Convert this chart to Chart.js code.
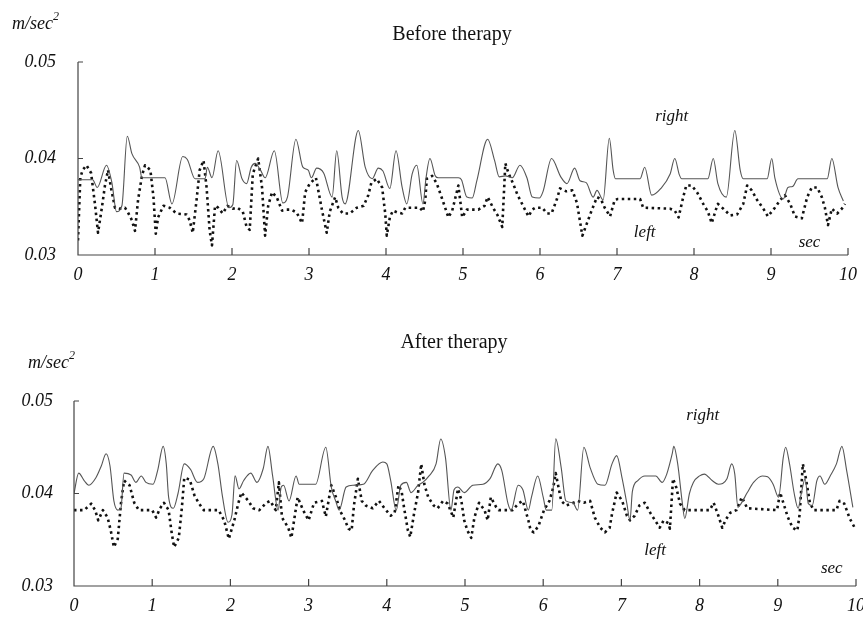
<!DOCTYPE html>
<html>
<head>
<meta charset="utf-8">
<script src="https://cdn.jsdelivr.net/npm/chart.js@4.4.1/dist/chart.umd.min.js"></script>
<style>
  body { margin: 0; background: #fff; }
  #wrap1 { position: absolute; left: 0; top: 0; width: 863px; height: 300px; }
  #wrap2 { position: absolute; left: 0; top: 310px; width: 863px; height: 310px; }
</style>
</head>
<body>
<div id="wrap1"><canvas id="chartBefore" width="863" height="300"></canvas></div>
<div id="wrap2"><canvas id="chartAfter" width="863" height="310"></canvas></div>
<script>
// time axis ticks (sec) and acceleration ticks (m/sec^2)
const xTicks = [0, 1, 2, 3, 4, 5, 6, 7, 8, 9, 10];
const yTicks = [0.03, 0.04, 0.05];

// Before therapy - right side (solid)
const beforeRightT = [0, 0.19, 0.25, 0.37, 0.44, 0.50, 0.57, 0.64, 0.70, 0.80, 0.83, 1.13, 1.22, 1.36, 1.42, 1.52, 1.65, 1.68, 1.74, 1.82, 1.96, 2.01, 2.06, 2.13, 2.19, 2.25, 2.30, 2.37, 2.43, 2.55, 2.66, 2.72, 2.83, 2.92, 2.99, 3.03, 3.10, 3.19, 3.30, 3.36, 3.43, 3.47, 3.64, 3.73, 3.82, 3.90, 3.96, 4.05, 4.13, 4.21, 4.27, 4.34, 4.40, 4.48, 4.52, 4.57, 4.64, 4.68, 4.94, 4.98, 5.05, 5.12, 5.18, 5.32, 5.41, 5.47, 5.55, 5.64, 5.74, 5.83, 5.90, 5.99, 6.04, 6.15, 6.27, 6.35, 6.45, 6.52, 6.60, 6.69, 6.74, 6.82, 6.90, 6.95, 6.98, 7.30, 7.36, 7.45, 7.57, 7.69, 7.75, 7.81, 7.84, 8.18, 8.25, 8.31, 8.42, 8.53, 8.60, 8.64, 8.95, 9.01, 9.05, 9.16, 9.22, 9.28, 9.35, 9.73, 9.79, 9.87, 9.94];
const beforeRightV = [0.0378, 0.0378, 0.0370, 0.0393, 0.0375, 0.0345, 0.0351, 0.0423, 0.0405, 0.0391, 0.0380, 0.0380, 0.0353, 0.0402, 0.0399, 0.0379, 0.0379, 0.0391, 0.0380, 0.0408, 0.0349, 0.0352, 0.0398, 0.0379, 0.0374, 0.0391, 0.0395, 0.0388, 0.0380, 0.0408, 0.0354, 0.0360, 0.0420, 0.0391, 0.0388, 0.0380, 0.0390, 0.0385, 0.0360, 0.0408, 0.0360, 0.0353, 0.0429, 0.0391, 0.0379, 0.0390, 0.0387, 0.0369, 0.0408, 0.0370, 0.0353, 0.0384, 0.0393, 0.0353, 0.0380, 0.0400, 0.0382, 0.0380, 0.0380, 0.0378, 0.0360, 0.0359, 0.0377, 0.0420, 0.0398, 0.0381, 0.0382, 0.0380, 0.0393, 0.0380, 0.0360, 0.0359, 0.0366, 0.0400, 0.0381, 0.0374, 0.0390, 0.0377, 0.0375, 0.0360, 0.0367, 0.0357, 0.0421, 0.0388, 0.0379, 0.0379, 0.0391, 0.0362, 0.0369, 0.0384, 0.0400, 0.0383, 0.0379, 0.0379, 0.0400, 0.0374, 0.0360, 0.0429, 0.0388, 0.0379, 0.0379, 0.0400, 0.0380, 0.0358, 0.0370, 0.0371, 0.0379, 0.0379, 0.0400, 0.0370, 0.0356];

// Before therapy - left side (dotted)
const beforeLeftT = [0, 0.03, 0.06, 0.11, 0.17, 0.22, 0.26, 0.31, 0.35, 0.39, 0.43, 0.48, 0.54, 0.61, 0.65, 0.70, 0.74, 0.78, 0.83, 0.87, 0.94, 0.98, 1.01, 1.04, 1.11, 1.19, 1.28, 1.41, 1.45, 1.49, 1.54, 1.58, 1.63, 1.67, 1.71, 1.74, 1.78, 1.82, 1.88, 1.94, 2.01, 2.07, 2.14, 2.19, 2.23, 2.27, 2.34, 2.39, 2.43, 2.47, 2.52, 2.58, 2.65, 2.71, 2.77, 2.84, 2.91, 2.95, 3.01, 3.09, 3.17, 3.23, 3.27, 3.34, 3.38, 3.44, 3.53, 3.62, 3.71, 3.77, 3.81, 3.88, 3.95, 3.99, 4.01, 4.05, 4.09, 4.15, 4.21, 4.25, 4.44, 4.48, 4.51, 4.53, 4.60, 4.66, 4.73, 4.81, 4.86, 4.94, 4.99, 5.05, 5.12, 5.20, 5.28, 5.32, 5.39, 5.45, 5.51, 5.55, 5.59, 5.65, 5.71, 5.78, 5.85, 5.90, 5.94, 6.03, 6.09, 6.15, 6.22, 6.26, 6.34, 6.42, 6.48, 6.55, 6.61, 6.67, 6.74, 6.79, 6.84, 6.91, 6.97, 7.01, 7.30, 7.34, 7.69, 7.75, 7.80, 7.86, 7.90, 7.97, 8.04, 8.12, 8.18, 8.23, 8.28, 8.31, 8.38, 8.47, 8.56, 8.64, 8.69, 8.75, 8.82, 8.90, 8.96, 9.05, 9.12, 9.18, 9.25, 9.31, 9.40, 9.47, 9.53, 9.60, 9.66, 9.70, 9.74, 9.79, 9.86, 9.92, 9.96];
const beforeLeftV = [0.0315, 0.0380, 0.0388, 0.0393, 0.0385, 0.0353, 0.0323, 0.0349, 0.0372, 0.0388, 0.0369, 0.0349, 0.0348, 0.0349, 0.0344, 0.0336, 0.0325, 0.0357, 0.0382, 0.0393, 0.0388, 0.0360, 0.0322, 0.0339, 0.0351, 0.0349, 0.0343, 0.0342, 0.0336, 0.0323, 0.0357, 0.0388, 0.0398, 0.0370, 0.0325, 0.0310, 0.0351, 0.0349, 0.0343, 0.0351, 0.0348, 0.0349, 0.0345, 0.0329, 0.0326, 0.0384, 0.0400, 0.0370, 0.0320, 0.0351, 0.0365, 0.0360, 0.0346, 0.0347, 0.0347, 0.0344, 0.0333, 0.0365, 0.0374, 0.0380, 0.0346, 0.0323, 0.0345, 0.0360, 0.0349, 0.0343, 0.0343, 0.0349, 0.0351, 0.0362, 0.0375, 0.0379, 0.0370, 0.0343, 0.0320, 0.0339, 0.0346, 0.0344, 0.0343, 0.0349, 0.0349, 0.0345, 0.0357, 0.0379, 0.0382, 0.0374, 0.0358, 0.0339, 0.0346, 0.0372, 0.0339, 0.0347, 0.0347, 0.0347, 0.0351, 0.0360, 0.0349, 0.0341, 0.0329, 0.0395, 0.0385, 0.0374, 0.0362, 0.0351, 0.0340, 0.0347, 0.0349, 0.0349, 0.0343, 0.0343, 0.0358, 0.0369, 0.0366, 0.0367, 0.0354, 0.0320, 0.0333, 0.0346, 0.0360, 0.0358, 0.0349, 0.0340, 0.0357, 0.0358, 0.0358, 0.0349, 0.0348, 0.0346, 0.0339, 0.0360, 0.0372, 0.0372, 0.0365, 0.0353, 0.0345, 0.0333, 0.0346, 0.0353, 0.0348, 0.0341, 0.0342, 0.0353, 0.0372, 0.0367, 0.0357, 0.0348, 0.0340, 0.0349, 0.0357, 0.0362, 0.0353, 0.0340, 0.0338, 0.0360, 0.0370, 0.0370, 0.0360, 0.0349, 0.0331, 0.0348, 0.0343, 0.0348, 0.0353];

// After therapy - right side (solid)
const afterRightT = [0, 0.06, 0.13, 0.19, 0.28, 0.35, 0.41, 0.46, 0.51, 0.56, 0.60, 0.64, 0.73, 0.79, 0.86, 0.92, 1.01, 1.07, 1.14, 1.18, 1.21, 1.27, 1.33, 1.41, 1.49, 1.58, 1.66, 1.78, 1.84, 1.90, 1.97, 2.02, 2.06, 2.11, 2.17, 2.26, 2.34, 2.42, 2.48, 2.54, 2.61, 2.65, 2.68, 2.75, 2.84, 2.88, 3.09, 3.22, 3.29, 3.35, 3.39, 3.48, 3.57, 3.70, 3.82, 3.95, 4.00, 4.05, 4.12, 4.18, 4.25, 4.31, 4.40, 4.46, 4.54, 4.63, 4.69, 4.75, 4.82, 4.86, 4.91, 4.99, 5.10, 5.23, 5.32, 5.42, 5.47, 5.55, 5.59, 5.68, 5.74, 5.81, 5.85, 5.93, 6.00, 6.04, 6.11, 6.16, 6.23, 6.29, 6.38, 6.44, 6.52, 6.60, 6.70, 6.79, 6.88, 6.94, 7.01, 7.07, 7.11, 7.14, 7.21, 7.30, 7.44, 7.52, 7.58, 7.65, 7.67, 7.72, 7.78, 7.81, 7.87, 7.92, 8.00, 8.06, 8.16, 8.24, 8.35, 8.41, 8.45, 8.49, 8.53, 8.61, 8.69, 8.80, 8.87, 8.94, 9.01, 9.07, 9.10, 9.15, 9.21, 9.26, 9.30, 9.35, 9.39, 9.44, 9.50, 9.54, 9.60, 9.67, 9.75, 9.82, 9.88, 9.96];
const afterRightV = [0.0400, 0.0422, 0.0414, 0.0409, 0.0417, 0.0430, 0.0443, 0.0430, 0.0392, 0.0382, 0.0384, 0.0422, 0.0420, 0.0412, 0.0419, 0.0412, 0.0410, 0.0425, 0.0451, 0.0432, 0.0396, 0.0384, 0.0400, 0.0432, 0.0426, 0.0412, 0.0416, 0.0451, 0.0432, 0.0396, 0.0369, 0.0377, 0.0419, 0.0405, 0.0414, 0.0422, 0.0412, 0.0427, 0.0451, 0.0419, 0.0382, 0.0407, 0.0409, 0.0392, 0.0419, 0.0410, 0.0410, 0.0450, 0.0407, 0.0391, 0.0382, 0.0407, 0.0409, 0.0410, 0.0425, 0.0434, 0.0432, 0.0414, 0.0382, 0.0409, 0.0412, 0.0401, 0.0409, 0.0412, 0.0419, 0.0432, 0.0459, 0.0439, 0.0382, 0.0404, 0.0407, 0.0401, 0.0409, 0.0410, 0.0416, 0.0432, 0.0425, 0.0389, 0.0382, 0.0409, 0.0404, 0.0382, 0.0396, 0.0419, 0.0396, 0.0382, 0.0382, 0.0459, 0.0428, 0.0392, 0.0390, 0.0382, 0.0450, 0.0428, 0.0410, 0.0409, 0.0432, 0.0441, 0.0416, 0.0389, 0.0371, 0.0402, 0.0414, 0.0419, 0.0419, 0.0412, 0.0421, 0.0443, 0.0451, 0.0432, 0.0389, 0.0373, 0.0400, 0.0412, 0.0419, 0.0421, 0.0414, 0.0410, 0.0416, 0.0432, 0.0421, 0.0385, 0.0389, 0.0401, 0.0412, 0.0419, 0.0418, 0.0410, 0.0396, 0.0439, 0.0450, 0.0432, 0.0400, 0.0384, 0.0400, 0.0416, 0.0389, 0.0387, 0.0414, 0.0419, 0.0410, 0.0419, 0.0432, 0.0451, 0.0425, 0.0385];

// After therapy - left side (dotted)
const afterLeftT = [0, 0.13, 0.22, 0.27, 0.31, 0.37, 0.43, 0.47, 0.51, 0.56, 0.60, 0.64, 0.71, 0.77, 0.83, 1.00, 1.05, 1.10, 1.15, 1.21, 1.25, 1.28, 1.34, 1.38, 1.41, 1.48, 1.54, 1.60, 1.66, 1.85, 1.92, 1.98, 2.05, 2.10, 2.14, 2.23, 2.29, 2.37, 2.46, 2.51, 2.58, 2.62, 2.66, 2.74, 2.78, 2.82, 2.86, 2.93, 3.00, 3.07, 3.17, 3.22, 3.29, 3.35, 3.41, 3.46, 3.51, 3.55, 3.58, 3.63, 3.68, 3.73, 3.82, 3.90, 3.97, 4.05, 4.10, 4.15, 4.19, 4.22, 4.27, 4.30, 4.35, 4.40, 4.44, 4.48, 4.53, 4.60, 4.65, 4.72, 4.78, 4.85, 4.91, 4.95, 4.99, 5.03, 5.08, 5.12, 5.18, 5.25, 5.29, 5.33, 5.40, 5.43, 5.61, 5.68, 5.74, 5.81, 5.84, 5.88, 5.94, 6.01, 6.08, 6.13, 6.16, 6.23, 6.29, 6.36, 6.44, 6.52, 6.60, 6.66, 6.73, 6.79, 6.85, 6.88, 6.94, 7.01, 7.07, 7.11, 7.17, 7.23, 7.30, 7.37, 7.43, 7.49, 7.54, 7.60, 7.62, 7.66, 7.70, 7.75, 7.81, 8.13, 8.18, 8.24, 8.29, 8.33, 8.39, 8.47, 8.54, 8.61, 8.99, 9.03, 9.07, 9.13, 9.19, 9.25, 9.28, 9.32, 9.36, 9.41, 9.46, 9.75, 9.79, 9.85, 9.92, 9.99];
const afterLeftV = [0.0382, 0.0382, 0.0389, 0.0382, 0.0371, 0.0382, 0.0374, 0.0360, 0.0342, 0.0351, 0.0389, 0.0414, 0.0409, 0.0390, 0.0382, 0.0382, 0.0374, 0.0384, 0.0390, 0.0382, 0.0357, 0.0342, 0.0352, 0.0385, 0.0417, 0.0415, 0.0398, 0.0389, 0.0382, 0.0382, 0.0371, 0.0351, 0.0371, 0.0389, 0.0401, 0.0392, 0.0384, 0.0382, 0.0390, 0.0392, 0.0382, 0.0412, 0.0374, 0.0363, 0.0352, 0.0374, 0.0396, 0.0382, 0.0371, 0.0390, 0.0392, 0.0375, 0.0409, 0.0396, 0.0380, 0.0372, 0.0362, 0.0360, 0.0387, 0.0416, 0.0392, 0.0387, 0.0384, 0.0392, 0.0384, 0.0376, 0.0379, 0.0409, 0.0402, 0.0385, 0.0360, 0.0353, 0.0379, 0.0401, 0.0432, 0.0410, 0.0396, 0.0387, 0.0384, 0.0392, 0.0389, 0.0374, 0.0405, 0.0394, 0.0371, 0.0360, 0.0352, 0.0374, 0.0390, 0.0382, 0.0371, 0.0396, 0.0385, 0.0382, 0.0382, 0.0389, 0.0392, 0.0371, 0.0360, 0.0358, 0.0365, 0.0382, 0.0392, 0.0407, 0.0422, 0.0392, 0.0387, 0.0389, 0.0392, 0.0390, 0.0392, 0.0374, 0.0363, 0.0358, 0.0363, 0.0378, 0.0401, 0.0392, 0.0376, 0.0371, 0.0376, 0.0387, 0.0390, 0.0379, 0.0371, 0.0363, 0.0371, 0.0368, 0.0362, 0.0416, 0.0407, 0.0389, 0.0382, 0.0382, 0.0390, 0.0376, 0.0363, 0.0371, 0.0379, 0.0382, 0.0396, 0.0384, 0.0382, 0.0401, 0.0390, 0.0374, 0.0363, 0.0360, 0.0378, 0.0432, 0.0416, 0.0390, 0.0382, 0.0382, 0.0392, 0.0389, 0.0373, 0.0362];

const serif = '"Liberation Serif", "DejaVu Serif", serif';
const inkSolid = '#555';
const inkDots = '#111';

function pts(ts, vs) {
  return ts.map(function (t, i) { return { x: t, y: vs[i] }; });
}

// draws axis lines with inward ticks, title, unit label and the in-plot words
const decoPlugin = {
  id: 'deco',
  afterDraw: function (chart, args, opts) {
    const ctx = chart.ctx;
    const a = chart.chartArea;
    const xs = chart.scales.x;
    const ys = chart.scales.y;
    ctx.save();
    ctx.strokeStyle = '#444';
    ctx.lineWidth = 1.2;
    ctx.beginPath();
    ctx.moveTo(a.left, a.top);
    ctx.lineTo(a.left, a.bottom);
    ctx.lineTo(a.right, a.bottom);
    xTicks.forEach(function (t) {
      if (t === 0) return;
      const px = xs.getPixelForValue(t);
      ctx.moveTo(px, a.bottom);
      ctx.lineTo(px, a.bottom - 7);
    });
    yTicks.forEach(function (v) {
      if (v === 0.03) return;
      const py = ys.getPixelForValue(v);
      ctx.moveTo(a.left, py);
      ctx.lineTo(a.left + 5, py);
    });
    ctx.stroke();

    ctx.fillStyle = '#111';
    ctx.textBaseline = 'middle';
    // title
    ctx.font = '20px ' + serif;
    ctx.textAlign = 'center';
    ctx.fillText(opts.title, opts.titleX, opts.titleY);
    // unit
    ctx.font = 'italic 18px ' + serif;
    ctx.textAlign = 'left';
    ctx.fillText('m/sec', opts.unitX, opts.unitY);
    const w = ctx.measureText('m/sec').width;
    ctx.font = 'italic 12px ' + serif;
    ctx.fillText('2', opts.unitX + w, opts.unitY - 7);
    // words inside the plot
    ctx.font = 'italic 17px ' + serif;
    ctx.textAlign = 'center';
    opts.words.forEach(function (wd) {
      ctx.fillText(wd.text, xs.getPixelForValue(wd.t), ys.getPixelForValue(wd.v));
    });
    ctx.restore();
  }
};

function makeChart(id, rightT, rightV, leftT, leftV, lay, deco) {
  const ctx = document.getElementById(id).getContext('2d');
  return new Chart(ctx, {
    type: 'line',
    data: {
      datasets: [{
        label: 'right',
        data: pts(rightT, rightV),
        borderColor: inkSolid,
        borderWidth: 1.1,
        pointRadius: 0,
        cubicInterpolationMode: 'monotone',
        fill: false
      }, {
        label: 'left',
        data: pts(leftT, leftV),
        borderColor: inkDots,
        borderWidth: 2.6,
        borderDash: [2.5, 3.5],
        borderJoinStyle: 'round',
        pointRadius: 0,
        tension: 0,
        fill: false
      }]
    },
    options: {
      responsive: false,
      animation: false,
      devicePixelRatio: 1,
      layout: { padding: { top: lay.top, right: lay.right, left: 0, bottom: 0 } },
      plugins: {
        legend: { display: false },
        title: { display: false },
        tooltip: { enabled: false },
        deco: deco
      },
      scales: {
        x: {
          type: 'linear',
          min: 0,
          max: 10,
          grid: { display: false, drawTicks: false },
          border: { display: false },
          afterBuildTicks: function (s) { s.ticks = xTicks.map(function (v) { return { value: v }; }); },
          afterFit: function (s) { s.height = lay.xHeight; s.paddingLeft = 0; s.paddingRight = 0; },
          ticks: {
            color: '#111',
            padding: lay.xPad,
            maxRotation: 0,
            autoSkip: false,
            font: { family: serif, size: 18, style: 'italic' },
            callback: function (v) { return String(v); }
          }
        },
        y: {
          min: 0.03,
          max: 0.05,
          grid: { display: false, drawTicks: false },
          border: { display: false },
          afterBuildTicks: function (s) { s.ticks = yTicks.map(function (v) { return { value: v }; }); },
          afterFit: function (s) { s.width = lay.yWidth; s.paddingTop = 0; s.paddingBottom = 0; },
          ticks: {
            color: '#111',
            padding: lay.yPad,
            font: { family: serif, size: 18, style: 'italic' },
            callback: function (v) { return Number(v).toFixed(2); }
          }
        }
      }
    },
    plugins: [decoPlugin]
  });
}

makeChart('chartBefore', beforeRightT, beforeRightV, beforeLeftT, beforeLeftV,
  { top: 62, right: 15, xHeight: 45, xPad: 9, yWidth: 78, yPad: 22 },
  { title: 'Before therapy', titleX: 452, titleY: 35, unitX: 12, unitY: 24,
    words: [{ text: 'right', t: 7.71, v: 0.0444 }, { text: 'left', t: 7.36, v: 0.0323 }, { text: 'sec', t: 9.5, v: 0.0313 }] });

makeChart('chartAfter', afterRightT, afterRightV, afterLeftT, afterLeftV,
  { top: 91, right: 7, xHeight: 34, xPad: 9, yWidth: 74, yPad: 21 },
  { title: 'After therapy', titleX: 454, titleY: 33, unitX: 28, unitY: 53,
    words: [{ text: 'right', t: 8.04, v: 0.0484 }, { text: 'left', t: 7.43, v: 0.0338 }, { text: 'sec', t: 9.69, v: 0.0319 }] });
</script>
</body>
</html>
